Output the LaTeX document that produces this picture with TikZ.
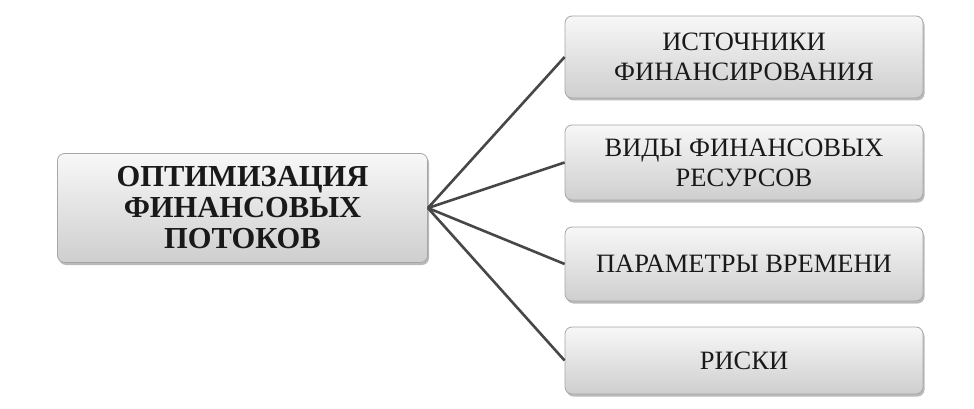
\documentclass[tikz,border=0pt]{standalone}
\usepackage{fontspec}
\setmainfont{Liberation Serif}
\usetikzlibrary{shadows}
\tikzset{
	box/.style={draw=gray!70, line width=0.8pt, rounded corners=7pt, top color=gray!6, bottom color=gray!38,
		align=center, inner sep=0pt, text=black!90,
		drop shadow={shadow xshift=1.5pt, shadow yshift=-2.5pt, opacity=0.45, fill=black!60}},
	link/.style={line width=2.6pt, color=black!72}
}
\begin{document}
\begin{tikzpicture}[x=1pt, y=-1pt]
	\useasboundingbox (0,0) rectangle (974,409);
	\node[box, minimum width=370pt, minimum height=109pt, font=\fontsize{30.5}{31}\selectfont\bfseries] (flows) at (242.5,208) {ОПТИМИЗАЦИЯ\\ФИНАНСОВЫХ\\ПОТОКОВ};
	\node[box, minimum width=358pt, minimum height=82pt, font=\fontsize{26.5}{30}\selectfont] (sources) at (744,57) {ИСТОЧНИКИ\\ФИНАНСИРОВАНИЯ};
	\node[box, minimum width=358pt, minimum height=75pt, font=\fontsize{26.5}{30}\selectfont] (kinds) at (744,162.5) {ВИДЫ ФИНАНСОВЫХ\\РЕСУРСОВ};
	\node[box, minimum width=358pt, minimum height=74pt, font=\fontsize{26.5}{30}\selectfont] (time) at (744,264) {ПАРАМЕТРЫ ВРЕМЕНИ};
	\node[box, minimum width=358pt, minimum height=67pt, font=\fontsize{26.5}{30}\selectfont] (risks) at (744,360.5) {РИСКИ};
	\draw[link] (flows.east) -- (sources.west);
	\draw[link] (flows.east) -- (kinds.west);
	\draw[link] (flows.east) -- (time.west);
	\draw[link] (flows.east) -- (risks.west);
\end{tikzpicture}
\end{document}
